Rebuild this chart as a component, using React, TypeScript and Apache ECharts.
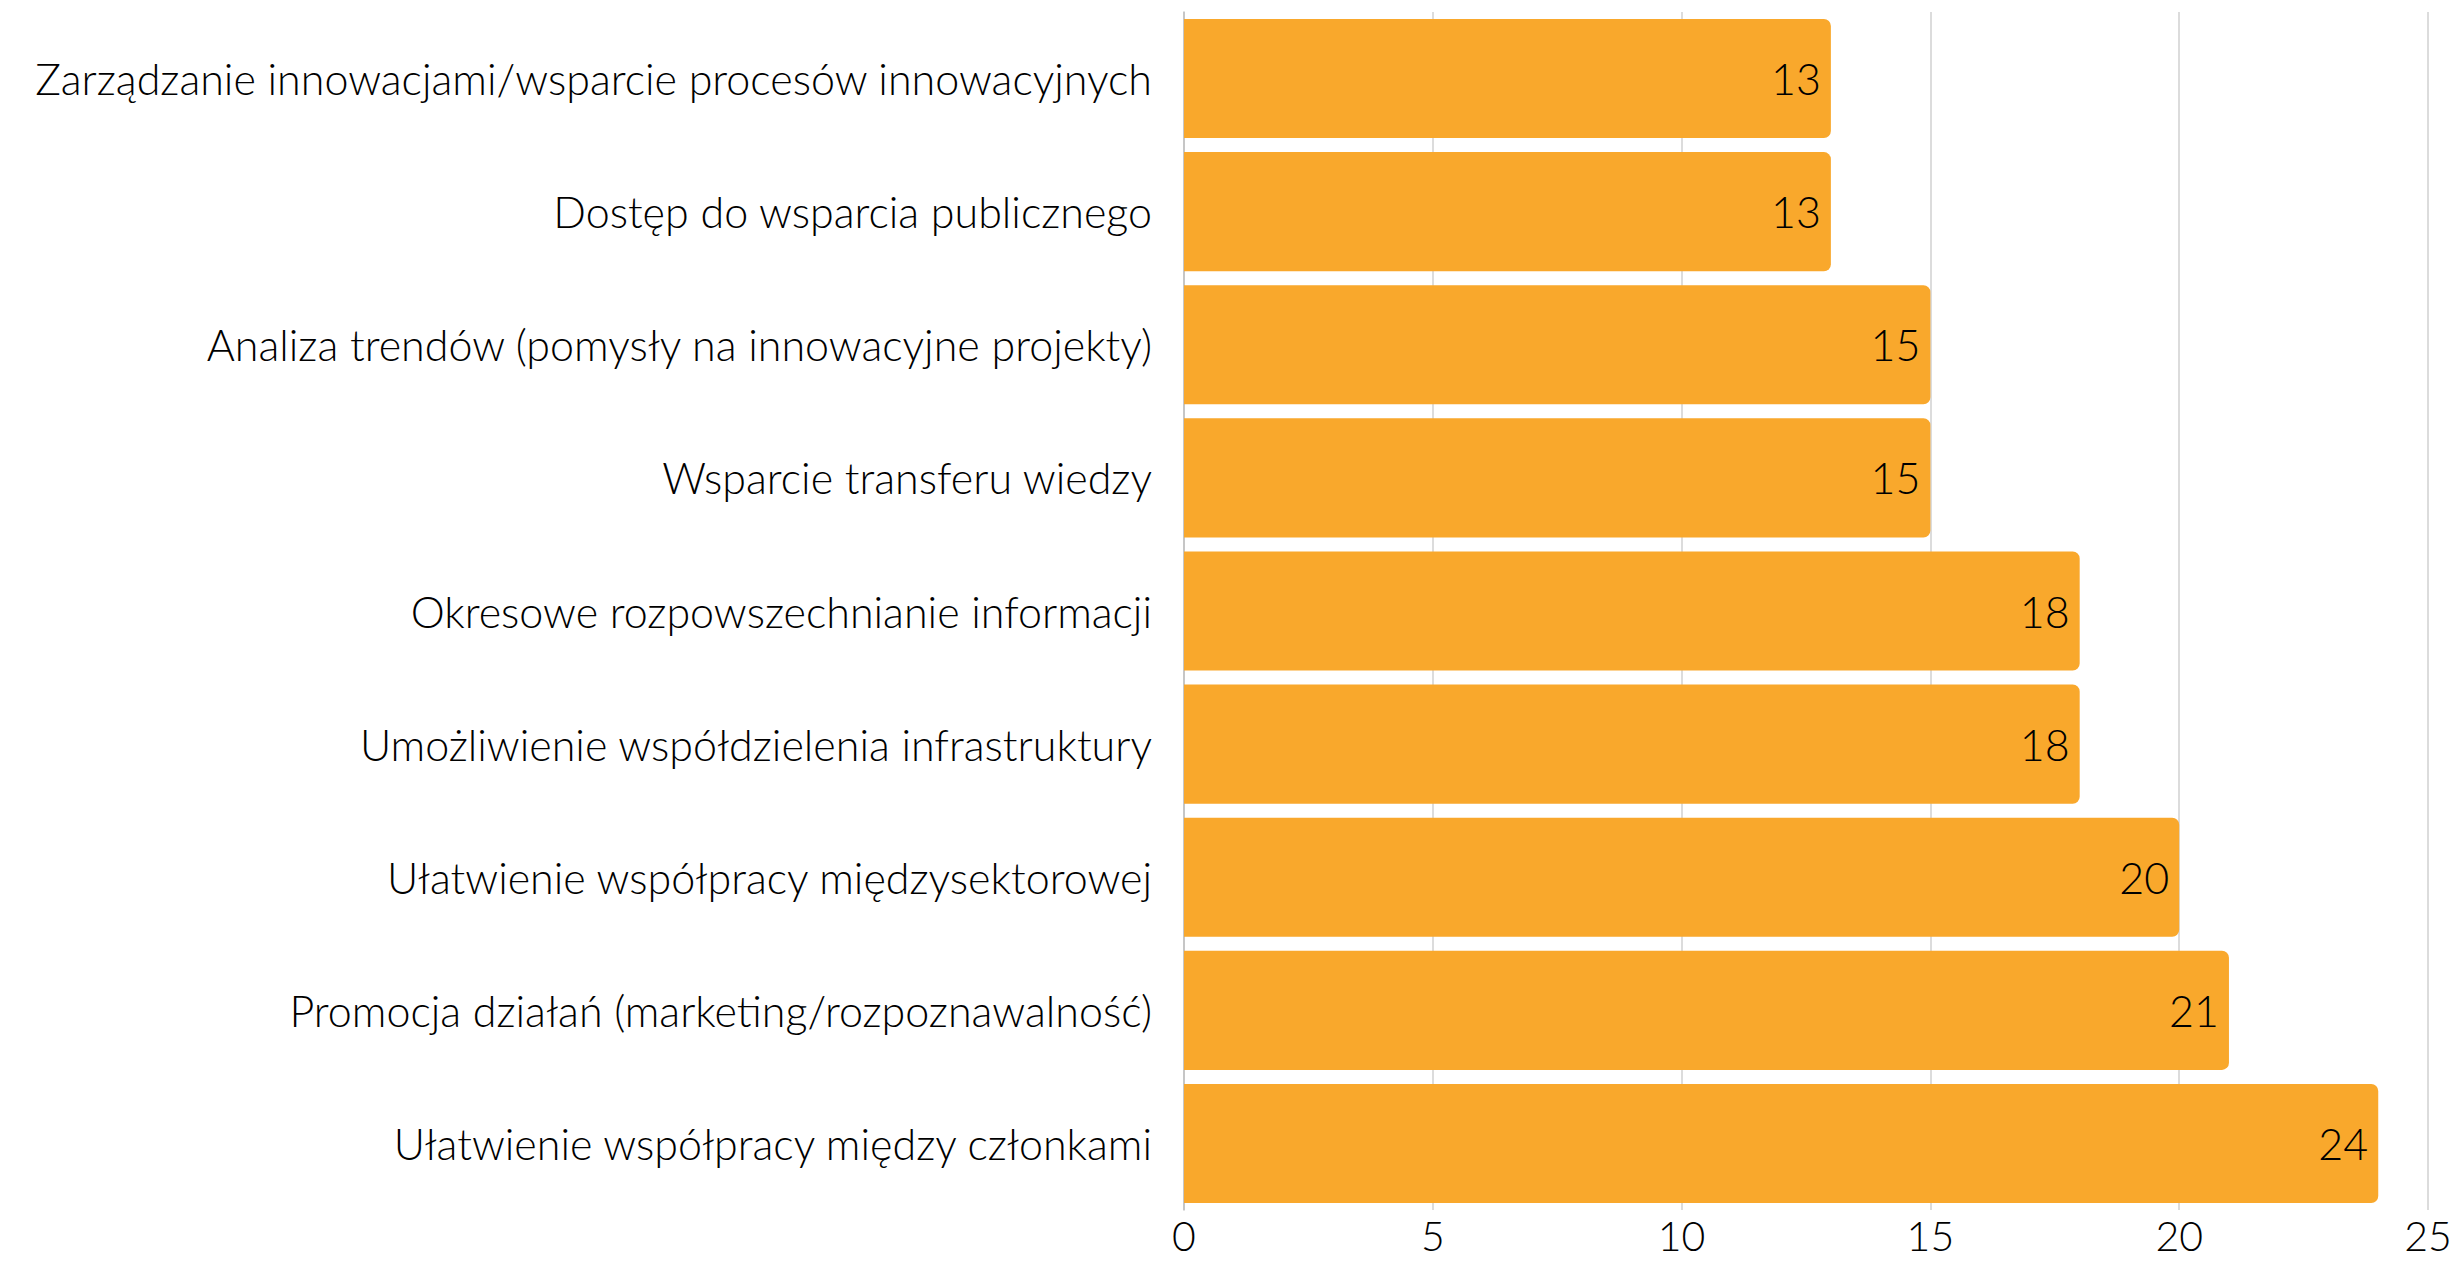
import React, { useEffect, useRef } from "react";
import * as echarts from "echarts";

const categories = [
  "Ułatwienie współpracy między członkami",
  "Promocja działań (marketing/rozpoznawalność)",
  "Ułatwienie współpracy międzysektorowej",
  "Umożliwienie współdzielenia infrastruktury",
  "Okresowe rozpowszechnianie informacji",
  "Wsparcie transferu wiedzy",
  "Analiza trendów (pomysły na innowacyjne projekty)",
  "Dostęp do wsparcia publicznego",
  "Zarządzanie innowacjami/wsparcie procesów innowacyjnych",
];
const values = [24, 21, 20, 18, 18, 15, 15, 13, 13];
const axisMin = 0;
const axisMax = 25;
const axisInterval = 5;

const FONT = "Lato";

export default function App() {
  const ref = useRef<HTMLDivElement>(null);
  useEffect(() => {
    if (!ref.current) return;
    const chart = echarts.init(ref.current, undefined, { renderer: "svg" });
    chart.setOption({
      animation: false,
      backgroundColor: "#ffffff",
      grid: { left: 1184, right: 27, top: 12, bottom: 51, containLabel: false },
      xAxis: {
        type: "value",
        min: axisMin,
        max: axisMax,
        interval: axisInterval,
        axisLine: { show: false },
        axisTick: { show: false },
        splitLine: { show: true, lineStyle: { color: "#d0d0d0", width: 1.5 } },
        axisLabel: {
          color: "#000",
          fontFamily: FONT,
          fontWeight: 300,
          fontSize: 41,
          lineHeight: 34,
          margin: 8,
        },
      },
      yAxis: {
        type: "category",
        data: categories,
        axisLine: { show: true, lineStyle: { color: "#bfbfbf", width: 1.5 } },
        axisTick: { show: false },
        axisLabel: {
          color: "#000",
          fontFamily: FONT,
          fontWeight: 300,
          fontSize: 43,
          margin: 32,
        },
      },
      series: [
        {
          type: "bar",
          data: values,
          barCategoryGap: "10.5%",
          itemStyle: { color: "#F9A82C", borderRadius: [0, 7, 7, 0] },
          label: {
            show: true,
            position: "insideRight",
            distance: 10,
            color: "#000",
            fontFamily: FONT,
            fontWeight: 300,
            fontSize: 43,
          },
        },
      ],
    });
    return () => chart.dispose();
  }, []);
  return (
    <div
      ref={ref}
      style={{ position: "fixed", left: 0, top: 0, width: 2455, height: 1261 }}
    />
  );
}
